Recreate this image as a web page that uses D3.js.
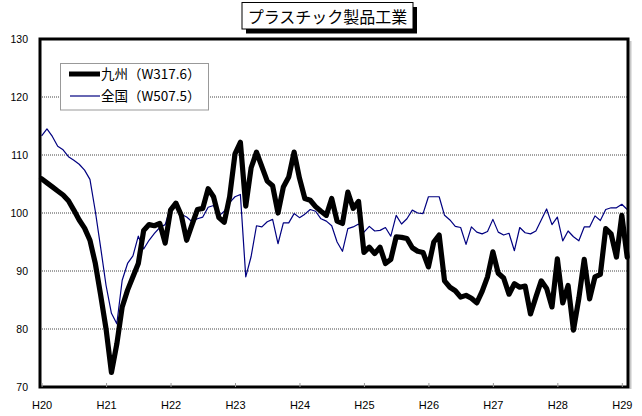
<!DOCTYPE html>
<html>
<head>
<meta charset="utf-8">
<script src="https://cdn.jsdelivr.net/npm/d3@7"></script>
<style>
  body { margin: 0; background: #fff; }
  text { font-family: "Liberation Sans", Arial, sans-serif; }
  .jp { font-family: "Noto Sans CJK JP", sans-serif; }
</style>
</head>
<body>
<div id="chart"></div>
<script>
// 1: DATA (monthly index, H20.1 - H29.2)
const yearLabels = ["H20", "H21", "H22", "H23", "H24", "H25", "H26", "H27", "H28", "H29"];
const yTicks = [70, 80, 90, 100, 110, 120, 130];
const seriesNames = ["九州（W317.6）", "全国（W507.5）"];
const chartTitle = "プラスチック製品工業";

const kyushu = [
    105.9, 105.2, 104.5, 103.8, 103.1, 102.1, 100.5, 98.8, 97.4, 95.3, 91.3, 85.8,
    80.0, 72.5, 77.4, 83.8, 86.7, 89.0, 91.3, 97.0, 98.0, 97.8, 98.2, 94.8,
    100.5, 101.7, 99.6, 95.3, 98.0, 100.6, 100.8, 104.2, 102.8, 99.2, 98.4, 102.8,
    110.2, 112.2, 101.2, 107.8, 110.5, 108.0, 105.5, 104.7, 100.0, 104.5, 106.2, 110.5,
    106.0, 102.5, 102.2, 101.1, 100.3, 99.6, 102.5, 98.6, 98.2, 103.6, 100.8, 102.0,
    93.2, 94.1, 93.0, 94.1, 91.3, 92.0, 95.9, 95.8, 95.6, 94.0, 93.4, 93.2,
    90.7, 95.0, 96.2, 88.3, 87.2, 86.6, 85.5, 85.8, 85.3, 84.5, 86.5, 89.0,
    93.3, 89.6, 88.8, 86.0, 87.8, 87.2, 87.4, 82.6, 85.5, 88.3, 87.0, 83.8,
    92.1, 84.5, 87.5, 79.8, 85.3, 92.0, 85.2, 89.0, 89.4, 97.3, 96.4, 92.4,
    99.6, 92.4
];

const zenkoku = [
    113.3, 114.5, 113.2, 111.5, 110.9, 109.7, 109.1, 108.4, 107.4, 105.8, 100.3, 94.0,
    87.5, 82.7, 80.9, 88.4, 91.3, 92.6, 96.0, 93.8, 95.3, 96.5, 97.5, 98.0,
    101.0, 101.3, 99.8, 99.3, 98.5, 99.0, 99.3, 101.0, 101.3, 99.5, 100.3, 101.8,
    102.8, 103.2, 89.0, 92.5, 97.8, 97.6, 98.5, 98.9, 94.7, 98.3, 98.3, 99.9,
    99.2, 99.8, 100.6, 100.3, 99.0, 98.6, 97.8, 95.0, 93.4, 97.3, 97.6, 98.1,
    96.7, 97.7, 96.9, 97.0, 97.5, 96.0, 99.6, 98.1, 99.0, 100.5, 100.0, 99.9,
    102.8, 102.8, 102.8, 99.6, 98.8, 97.7, 97.5, 94.6, 97.6, 96.7, 96.4, 96.8,
    98.9, 96.7, 96.2, 96.5, 93.5, 97.5, 96.6, 96.4, 96.9, 98.8, 100.7, 98.0,
    99.3, 95.2, 96.9, 95.9, 95.2, 97.6, 97.6, 99.5, 98.7, 100.6, 100.9, 100.9,
    101.5, 100.6
];

// 2: SIZES
const W = 642, H = 416;
const plot = { left: 40, top: 39, right: 628, bottom: 387 };

const svg = d3.select("#chart")
    .append("svg")
    .attr("width", W)
    .attr("height", H);

// 3: SCALES
const x = d3.scaleLinear()
    .domain([0, kyushu.length - 1])
    .range([plot.left + 1.6, plot.right - 0.8]);

const y = d3.scaleLinear()
    .domain([70, 130])
    .range([plot.bottom, plot.top]);

// light shadow on right of plot area
svg.append("line")
    .attr("x1", plot.right + 2.5).attr("x2", plot.right + 2.5)
    .attr("y1", plot.top + 2).attr("y2", plot.bottom + 2)
    .attr("stroke", "#c8c8c8").attr("stroke-width", 2);

// gridlines
svg.append("g")
    .selectAll("line")
    .data(yTicks.filter(d => d > 70 && d < 130))
    .enter()
    .append("line")
    .attr("x1", plot.left).attr("x2", plot.right)
    .attr("y1", d => y(d)).attr("y2", d => y(d))
    .attr("stroke", "#444")
    .attr("stroke-width", 1)
    .attr("stroke-dasharray", "1,1");

// 4: LINES
const line = d3.line()
    .x((d, i) => x(i))
    .y(d => y(d));

svg.append("path")
    .datum(zenkoku)
    .attr("d", line)
    .attr("fill", "none")
    .attr("stroke", "#000080")
    .attr("stroke-width", 1.2)
    .attr("stroke-linejoin", "round");

svg.append("path")
    .datum(kyushu)
    .attr("d", line)
    .attr("fill", "none")
    .attr("stroke", "#000")
    .attr("stroke-width", 5.2)
    .attr("stroke-linejoin", "round")
    .attr("stroke-linecap", "round");

// plot frame
svg.append("rect")
    .attr("x", plot.left).attr("y", plot.top)
    .attr("width", plot.right - plot.left)
    .attr("height", plot.bottom - plot.top)
    .attr("fill", "none")
    .attr("stroke", "#000")
    .attr("stroke-width", 3);

// 5: AXES
const xAxis = svg.append("g")
    .attr("transform", `translate(0,${plot.bottom})`)
    .call(d3.axisBottom(x)
        .tickValues(yearLabels.map((d, i) => i * 12))
        .tickFormat(d => yearLabels[d / 12])
        .tickSize(-4)
        .tickPadding(14));
xAxis.select(".domain").remove();
xAxis.selectAll(".tick line").attr("stroke", "#999");
xAxis.selectAll("text")
    .attr("font-family", "Liberation Sans, Arial, sans-serif")
    .attr("font-size", 11)
    .attr("fill", "#000");

const yAxis = svg.append("g")
    .attr("transform", `translate(${plot.left},0)`)
    .call(d3.axisLeft(y)
        .tickValues(yTicks)
        .tickSize(0)
        .tickPadding(12));
yAxis.select(".domain").remove();
yAxis.selectAll("text")
    .attr("font-family", "Liberation Sans, Arial, sans-serif")
    .attr("font-size", 10.5)
    .attr("fill", "#000");

// 6: TITLE (boxed, with shadow)
svg.append("rect")
    .attr("x", 246).attr("y", 7)
    .attr("width", 171).attr("height", 26.5)
    .attr("fill", "#000");
svg.append("rect")
    .attr("x", 242).attr("y", 2.5)
    .attr("width", 171).attr("height", 26.5)
    .attr("fill", "#fff")
    .attr("stroke", "#000")
    .attr("stroke-width", 1);
svg.append("text")
    .attr("class", "jp")
    .attr("x", 327.5).attr("y", 22.5)
    .attr("text-anchor", "middle")
    .attr("font-size", 16)
    .text(chartTitle);

// 7: LEGEND
const legend = svg.append("g");
legend.append("rect")
    .attr("x", 60.5).attr("y", 63.5)
    .attr("width", 148).attr("height", 46.5)
    .attr("fill", "#fff")
    .attr("stroke", "#999")
    .attr("stroke-width", 1);

const legendItems = [
    { name: seriesNames[0], color: "#000", width: 5, y: 74, x1: 69 },
    { name: seriesNames[1], color: "#000080", width: 1.2, y: 96, x1: 70 }
];
legendItems.forEach(d => {
    legend.append("line")
        .attr("x1", d.x1).attr("x2", 100)
        .attr("y1", d.y).attr("y2", d.y)
        .attr("stroke", d.color)
        .attr("stroke-width", d.width);
    legend.append("text")
        .attr("class", "jp")
        .attr("x", 101).attr("y", d.y + 5)
        .attr("font-size", 13.5)
        .text(d.name);
});
</script>
</body>
</html>
